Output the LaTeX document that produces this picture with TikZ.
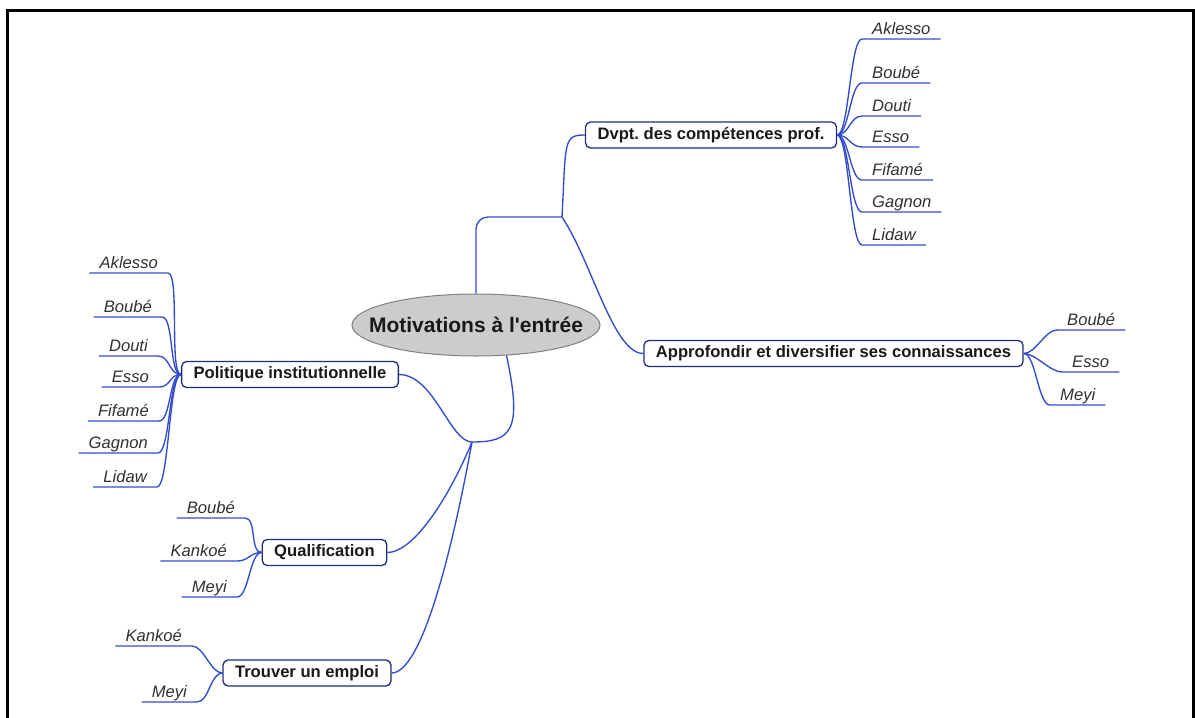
\documentclass[tikz,border=0pt]{standalone}
\usepackage{fontspec}
\setmainfont{Liberation Sans}
\usepackage{tikz}
\usetikzlibrary{shapes,positioning}
\frenchspacing
\definecolor{mmblue}{RGB}{50,75,205}
\definecolor{mmnavy}{RGB}{30,45,125}
\definecolor{mmgray}{RGB}{204,204,204}
\definecolor{mmtext}{RGB}{25,25,25}
\tikzstyle{topic} = [draw=mmnavy, line width=1.3, rounded corners=5, fill=white, minimum height=26, inner xsep=12, text=mmtext, font=\fontsize{16.6}{19}\selectfont\bfseries]
\tikzstyle{leaf} = [inner xsep=10, inner ysep=3, text depth=1, text=mmtext!90, font=\fontsize{16.6}{19}\selectfont\itshape]
\tikzstyle{link} = [mmblue, line width=1.35]

\begin{document}
\begin{tikzpicture}[x=1pt,y=-1pt]
\useasboundingbox (0,0) rectangle (1195,718);
% Frame
\draw[line width=3] (7,718) -- (7,10) -- (1193,10) -- (1193,718);

% Central topic
\node[ellipse, draw=gray, fill=mmgray, line width=1, minimum width=248, minimum height=62, inner sep=0, text=mmtext, font=\fontsize{21}{24}\selectfont\bfseries] (motiv) at (476,325) {\makebox[0pt]{Motivations à l\textquotesingle entrée}};
\coordinate (jtop) at (562,217);
\coordinate (jbot) at (472,442);

% Main topics
\node[topic] (dvpt) at (711,135) {Dvpt. des compétences prof.};
\node[topic] (appro) at (833.5,353.5) {Approfondir et diversifier ses connaissances};
\node[topic] (polit) at (290,374.5) {Politique institutionnelle};
\node[topic] (qualif) at (324.5,552.5) {Qualification};
\node[topic] (emploi) at (307,673) {Trouver un emploi};

% Branches
\draw[link, rounded corners=12] (motiv.north) -- (motiv.north |- jtop) -- (jtop);
\draw[link] (motiv.-45) .. controls +(16,75) and +(40,0) .. (jbot);
\draw[link] (jtop) .. controls +(4,-75) and +(-22,0) .. (dvpt.west);
\draw[link] (jtop) .. controls +(30,45) and +(-30,0) .. (appro.west);
\draw[link] (jbot) .. controls +(-22,0) and +(35,0) .. (polit.east);
\draw[link] (jbot) .. controls +(-25,60) and +(25,0) .. (qualif.east);
\draw[link] (jbot) .. controls +(-20,110) and +(30,0) .. (emploi.east);

% Dvpt. des competences
\node[leaf, anchor=south west] (dv1) at (862,39) {Aklesso};
\node[leaf, anchor=south west] (dv2) at (862,83) {Boubé};
\node[leaf, anchor=south west] (dv3) at (862,116) {Douti};
\node[leaf, anchor=south west] (dv4) at (862,147) {Esso};
\node[leaf, anchor=south west] (dv5) at (862,180) {Fifamé};
\node[leaf, anchor=south west] (dv6) at (862,212) {Gagnon};
\node[leaf, anchor=south west] (dv7) at (862,245) {Lidaw};
\draw[link] (dvpt.east) .. controls +(12,0) and +(-12,0) .. (dv1.south west) -- (dv1.south east);
\draw[link] (dvpt.east) .. controls +(12,0) and +(-12,0) .. (dv2.south west) -- (dv2.south east);
\draw[link] (dvpt.east) .. controls +(12,0) and +(-12,0) .. (dv3.south west) -- (dv3.south east);
\draw[link] (dvpt.east) .. controls +(12,0) and +(-12,0) .. (dv4.south west) -- (dv4.south east);
\draw[link] (dvpt.east) .. controls +(12,0) and +(-12,0) .. (dv5.south west) -- (dv5.south east);
\draw[link] (dvpt.east) .. controls +(12,0) and +(-12,0) .. (dv6.south west) -- (dv6.south east);
\draw[link] (dvpt.east) .. controls +(12,0) and +(-12,0) .. (dv7.south west) -- (dv7.south east);

% Approfondir
\node[leaf, anchor=south west] (ap1) at (1057,330) {Boubé};
\node[leaf, anchor=south west] (ap2) at (1062,372) {Esso};
\node[leaf, anchor=south west] (ap3) at (1050,405) {Meyi};
\draw[link] (appro.east) .. controls +(12,0) and +(-12,0) .. (ap1.south west) -- (ap1.south east);
\draw[link] (appro.east) .. controls +(12,0) and +(-12,0) .. (ap2.south west) -- (ap2.south east);
\draw[link] (appro.east) .. controls +(12,0) and +(-12,0) .. (ap3.south west) -- (ap3.south east);

% Politique institutionnelle
\node[leaf, anchor=south east] (po1) at (168,273) {Aklesso};
\node[leaf, anchor=south east] (po2) at (162,317) {Boubé};
\node[leaf, anchor=south east] (po3) at (158,356) {Douti};
\node[leaf, anchor=south east] (po4) at (159,387) {Esso};
\node[leaf, anchor=south east] (po5) at (159,421) {Fifamé};
\node[leaf, anchor=south east] (po6) at (158,453) {Gagnon};
\node[leaf, anchor=south east] (po7) at (157,487) {Lidaw};
\draw[link] (polit.west) .. controls +(-12,0) and +(12,0) .. (po1.south east) -- (po1.south west);
\draw[link] (polit.west) .. controls +(-12,0) and +(12,0) .. (po2.south east) -- (po2.south west);
\draw[link] (polit.west) .. controls +(-12,0) and +(12,0) .. (po3.south east) -- (po3.south west);
\draw[link] (polit.west) .. controls +(-12,0) and +(12,0) .. (po4.south east) -- (po4.south west);
\draw[link] (polit.west) .. controls +(-12,0) and +(12,0) .. (po5.south east) -- (po5.south west);
\draw[link] (polit.west) .. controls +(-12,0) and +(12,0) .. (po6.south east) -- (po6.south west);
\draw[link] (polit.west) .. controls +(-12,0) and +(12,0) .. (po7.south east) -- (po7.south west);

% Qualification
\node[leaf, anchor=south east] (qu1) at (245,518) {Boubé};
\node[leaf, anchor=south east] (qu2) at (237,561) {Kankoé};
\node[leaf, anchor=south east] (qu3) at (237,597) {Meyi};
\draw[link] (qualif.west) .. controls +(-12,0) and +(12,0) .. (qu1.south east) -- (qu1.south west);
\draw[link] (qualif.west) .. controls +(-12,0) and +(12,0) .. (qu2.south east) -- (qu2.south west);
\draw[link] (qualif.west) .. controls +(-12,0) and +(12,0) .. (qu3.south east) -- (qu3.south west);

% Trouver un emploi
\node[leaf, anchor=south east] (em1) at (192,646) {Kankoé};
\node[leaf, anchor=south east] (em2) at (197,702) {Meyi};
\draw[link] (emploi.west) .. controls +(-12,0) and +(12,0) .. (em1.south east) -- (em1.south west);
\draw[link] (emploi.west) .. controls +(-12,0) and +(12,0) .. (em2.south east) -- (em2.south west);
\end{tikzpicture}
\end{document}
